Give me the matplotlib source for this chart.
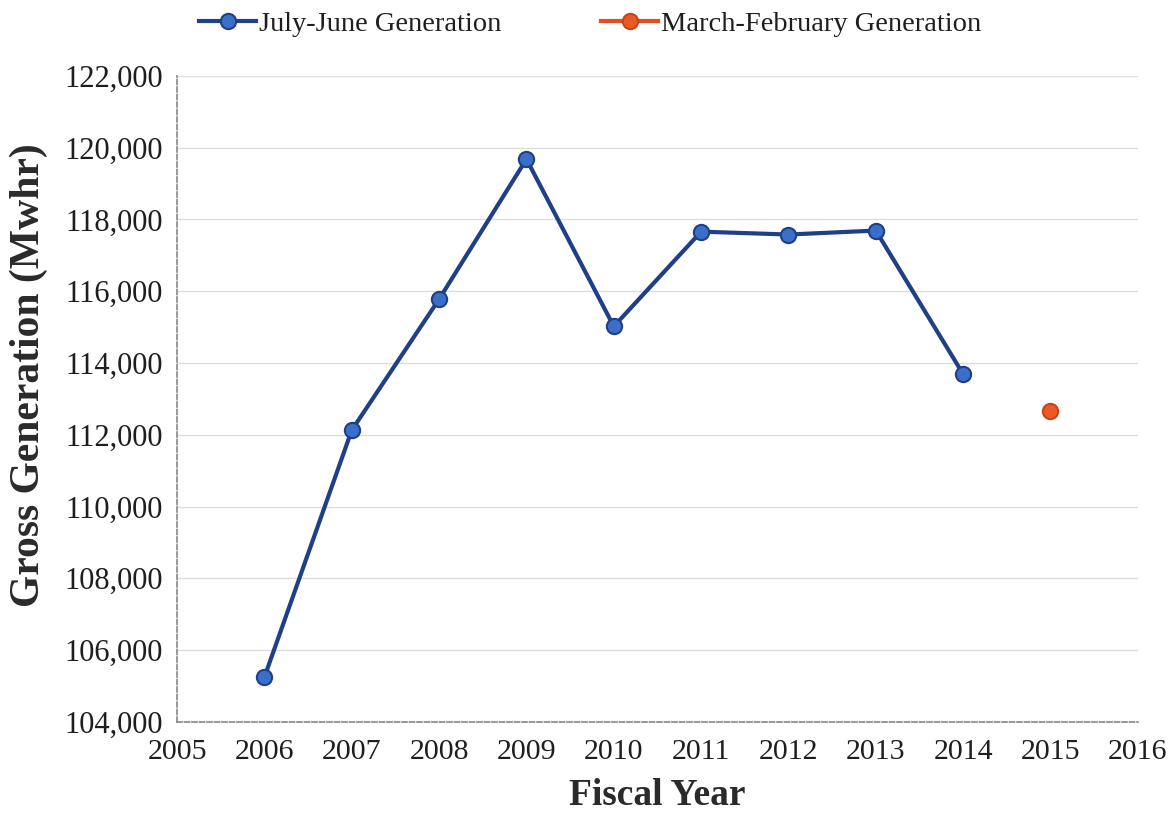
import matplotlib
matplotlib.use("Agg")
import matplotlib.pyplot as plt
from matplotlib.ticker import FuncFormatter, MultipleLocator

years = [2006, 2007, 2008, 2009, 2010, 2011, 2012, 2013, 2014]
july_june = [105250, 112130, 115780, 119680, 115020, 117660, 117580, 117690, 113690]
mar_feb_years = [2015]
mar_feb = [112660]

plt.rcParams['font.family'] = ['Liberation Serif', 'DejaVu Serif']

fig = plt.figure(figsize=(11.73, 8.25), dpi=100)
ax = fig.add_axes([0.151, 0.125, 0.819, 0.783])

ax.plot(years, july_june, color='#1f3f86', lw=3, marker='o', ms=11,
        mfc='#3a6fc9', mec='#1f3f86', mew=1.5, label='July-June Generation', zorder=3)
ax.plot(mar_feb_years, mar_feb, color='#e0501e', lw=3, marker='o', ms=11,
        mfc='#ec5a23', mec='#c84418', mew=1.5, label='March-February Generation', zorder=3)

ax.set_xlim(2005, 2016)
ax.set_ylim(104000, 122000)
ax.xaxis.set_major_locator(MultipleLocator(1))
ax.yaxis.set_major_locator(MultipleLocator(2000))
ax.yaxis.set_major_formatter(FuncFormatter(lambda v, p: f'{int(v):,}'))
ax.tick_params(axis='y', labelsize=22, length=0, pad=10, colors='#1e1e1e')
ax.tick_params(axis='x', labelsize=21.5, length=0, pad=12, colors='#1e1e1e')

ax.grid(axis='y', color='#dddddd', lw=1)
ax.set_axisbelow(True)
for s in ['top', 'right']:
    ax.spines[s].set_visible(False)
for s in ['left', 'bottom']:
    ax.spines[s].set_linestyle((0, (3, 1.5)))
    ax.spines[s].set_color('#888888')
    ax.spines[s].set_linewidth(1.2)

ax.set_xlabel('Fiscal Year', fontsize=27, fontweight='bold', color='#2a2a2a', labelpad=10)
ax.set_ylabel('Gross Generation (Mwhr)', fontsize=30, fontweight='bold', color='#2a2a2a')
ax.yaxis.set_label_coords(-0.134, 0.537)

ax.legend(loc='lower center', bbox_to_anchor=(0.43, 1.02), ncol=2, frameon=False,
          fontsize=20.5, handlelength=2.0, handletextpad=0.1, columnspacing=3.5,
          labelcolor='#1e1e1e')

fig.savefig('out.png', dpi=100)
